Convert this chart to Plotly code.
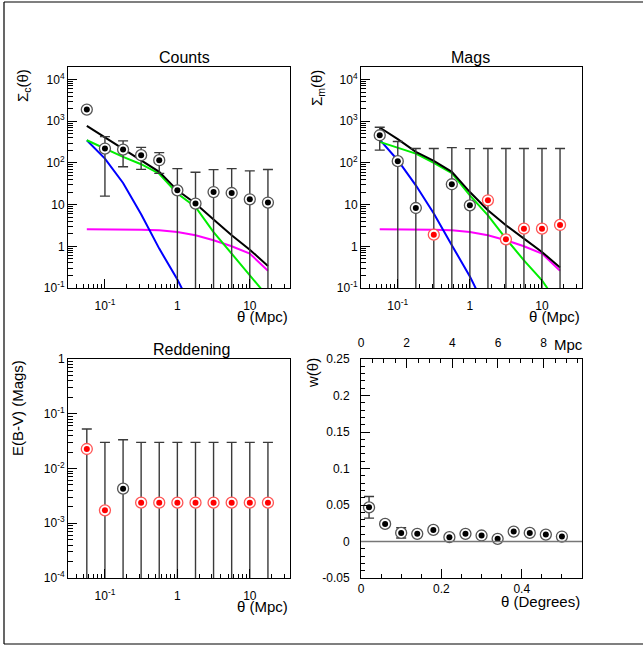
import plotly.graph_objects as go

# ---------------- data ----------------
r_mpc = [0.0562, 0.1, 0.178, 0.316, 0.562, 1.0, 1.78, 3.16, 5.62, 10.0, 17.8]

counts_y = [1900, 221, 209, 153, 116, 22, 10.6, 20, 19, 13.4, 11.2]
counts_err = [0, 205, 128, 83, 60, 51, 49, 49, 54, 51, 58]
counts_col = ["k"] * 11

mags_y = [461, 110, 8.3, 1.9, 30.8, 9.6, 12.7, 1.47, 2.65, 2.65, 3.25]
mags_err = [258, 215, 213, 219, 202, 211, 208, 220, 218, 218, 218]
mags_col = ["k", "k", "k", "r", "k", "k", "r", "r", "r", "r", "r"]

redd_y = [0.0227, 0.00172, 0.00428, 0.00238, 0.00238, 0.00238, 0.00238, 0.00238, 0.00238, 0.00238, 0.00238]
redd_err = [0.030, 0.0283, 0.0293, 0.0276, 0.0276, 0.0276, 0.0276, 0.0276, 0.0276, 0.0276, 0.0276]
redd_col = ["r", "r", "k", "r", "r", "r", "r", "r", "r", "r", "r"]

# model curves (Counts)
black_c = [774, 408, 216, 116, 61, 22, 10.6, 4.37, 1.84, 0.83, 0.337]
green_c = [350, 221, 139, 93, 55, 18.4, 8.8, 2.2, 0.667, 0.205, 0.061]
blue_c = [350, 127, 33, 5.9, 0.88, 0.16, 0.022]
magenta_c = [2.56, 2.56, 2.55, 2.5, 2.42, 2.2, 1.84, 1.4, 1.0, 0.667, 0.26]

# model curves (Mags)
black_m = [706, 373, 184, 112, 61, 20, 7.3, 3.2, 1.53, 0.73, 0.31]
green_m = [319, 229, 167, 100, 57, 16.7, 5.5, 1.53, 0.46, 0.153, 0.035]
blue_m = [363, 116, 29, 6.1, 1.06, 0.19, 0.025]
magenta_m = [2.56, 2.56, 2.55, 2.5, 2.42, 2.2, 1.84, 1.4, 1.0, 0.667, 0.26]

# w(theta)
w_deg = [0.02, 0.06, 0.10, 0.14, 0.18, 0.22, 0.26, 0.30, 0.34, 0.38, 0.42, 0.46, 0.50]
w_y = [0.0468, 0.0241, 0.0118, 0.0105, 0.0159, 0.0059, 0.0105, 0.0082, 0.0036, 0.0136, 0.0118, 0.0095, 0.0068]
w_err = [0.0148, 0.0041, 0.007, 0.003, 0.002, 0.002, 0.002, 0.002, 0.002, 0.002, 0.002, 0.002, 0.002]

ZW = "\u200b"
log_ticks_x = [0.1, 1, 10]
log_text_x = ["10<sup>-1</sup>", "1<sup>" + ZW + "</sup>", "10<sup>" + ZW + "</sup>"]
log_ticks_y1 = [0.1, 1, 10, 100, 1000, 10000]
log_text_y1 = ["10<sup>-1</sup>", "1", "10", "10<sup>2</sup>", "10<sup>3</sup>", "10<sup>4</sup>"]
log_ticks_y3 = [1e-4, 1e-3, 1e-2, 1e-1, 1]
log_text_y3 = ["10<sup>-4</sup>", "10<sup>-3</sup>", "10<sup>-2</sup>", "10<sup>-1</sup>", "1"]
w_ticks_y = [-0.05, 0, 0.05, 0.1, 0.15, 0.2, 0.25]
w_text_y = ["-0.05", "0", "0.05", "0.1", "0.15", "0.2", "0.25"]
deg_ticks = [0, 0.2, 0.4]
deg_text = ["0", "0.2", "0.4"]
mpc_ticks = [0, 2, 4, 6, 8]

# ---------------- helpers ----------------
W, H = 643, 646
FONT = "Liberation Sans, Arial, Helvetica, sans-serif"


def px(x):
    return x / W


def py(y):
    return 1 - y / H


def minor_log(lo_exp, hi_exp, lo, hi):
    vals = []
    for e in range(lo_exp, hi_exp + 1):
        for m in range(2, 10):
            v = m * 10 ** e
            if lo < v < hi:
                vals.append(v)
    return vals


RING = {"k": "#555555", "r": "#ff5555"}
FILL = {"k": "#000000", "r": "#ff0000"}

fig = go.Figure()


def add_points(x, y, err, cols, xa, ya):
    fig.add_trace(go.Scatter(
        x=x, y=y, mode="markers", xaxis=xa, yaxis=ya, showlegend=False,
        marker=dict(symbol="circle", size=11, color="white",
                    line=dict(color=[RING[c] for c in cols], width=1.3)),
        error_y=dict(type="data", array=err, symmetric=True, color="#3a3a3a",
                     thickness=1.4, width=5),
    ))
    fig.add_trace(go.Scatter(
        x=x, y=y, mode="markers", xaxis=xa, yaxis=ya, showlegend=False,
        marker=dict(symbol="circle", size=6, color=[FILL[c] for c in cols]),
    ))


def add_curve(x, y, color, xa, ya):
    fig.add_trace(go.Scatter(x=x, y=y, mode="lines", xaxis=xa, yaxis=ya,
                             showlegend=False, line=dict(color=color, width=2)))


# Counts
add_curve(r_mpc, magenta_c, "#ff00ff", "x", "y")
add_curve(r_mpc[:len(blue_c)], blue_c, "#0000ff", "x", "y")
add_curve(r_mpc, green_c, "#00ee00", "x", "y")
add_curve(r_mpc, black_c, "#000000", "x", "y")
add_points(r_mpc, counts_y, counts_err, counts_col, "x", "y")

# Mags
add_curve(r_mpc, magenta_m, "#ff00ff", "x2", "y2")
add_curve(r_mpc[:len(blue_m)], blue_m, "#0000ff", "x2", "y2")
add_curve(r_mpc, green_m, "#00ee00", "x2", "y2")
add_curve(r_mpc, black_m, "#000000", "x2", "y2")
add_points(r_mpc, mags_y, mags_err, mags_col, "x2", "y2")

# Reddening
add_points(r_mpc, redd_y, redd_err, redd_col, "x3", "y3")

# w(theta)
add_points(w_deg, w_y, w_err, ["k"] * len(w_deg), "x4", "y4")
fig.add_trace(go.Scatter(x=[None], y=[None], xaxis="x5", yaxis="y4",
                         showlegend=False, hoverinfo="skip"))

axis_common = dict(showline=True, linecolor="black", linewidth=1, mirror=True,
                   ticks="inside", ticklen=9, tickwidth=1, tickcolor="black",
                   showgrid=False, zeroline=False, automargin=False,
                   tickfont=dict(family=FONT, size=12, color="black"))

XL = [px(68), px(290)]
XR = [px(361), px(582)]
YT = [py(288), py(67)]
YB = [py(578), py(359)]
XRANGE = [-1.51, 1.555]

minor_x = dict(tickvals=minor_log(-2, 1, 0.031, 35.8), ticks="inside", ticklen=4,
               tickcolor="black", showgrid=False)
minor_y1 = dict(tickvals=minor_log(-1, 4, 0.1, 19900), ticks="inside", ticklen=5,
                tickcolor="black", showgrid=False)
minor_y3 = dict(tickvals=minor_log(-4, -1, 1e-4, 1), ticks="inside", ticklen=5,
                tickcolor="black", showgrid=False)

fig.update_layout(
    width=W, height=H,
    margin=dict(l=0, r=0, t=0, b=0, pad=0, autoexpand=False),
    paper_bgcolor="white", plot_bgcolor="white",
    showlegend=False,
    xaxis=dict(axis_common, type="log", range=XRANGE, domain=XL, anchor="y",
               tickvals=log_ticks_x, ticktext=log_text_x, minor=minor_x,
               ticklabelstandoff=7),
    yaxis=dict(axis_common, type="log", range=[-1, 4.3], domain=YT, anchor="x",
               tickvals=log_ticks_y1, ticktext=log_text_y1, minor=minor_y1),
    xaxis2=dict(axis_common, type="log", range=XRANGE, domain=XR, anchor="y2",
                tickvals=log_ticks_x, ticktext=log_text_x, minor=minor_x,
                ticklabelstandoff=7),
    yaxis2=dict(axis_common, type="log", range=[-1, 4.3], domain=YT, anchor="x2",
                tickvals=log_ticks_y1, ticktext=log_text_y1, minor=minor_y1),
    xaxis3=dict(axis_common, type="log", range=XRANGE, domain=XL, anchor="y3",
                tickvals=log_ticks_x, ticktext=log_text_x, minor=minor_x,
                ticklabelstandoff=7),
    yaxis3=dict(axis_common, type="log", range=[-4, 0], domain=YB, anchor="x3",
                tickvals=log_ticks_y3, ticktext=log_text_y3, minor=minor_y3),
    xaxis4=dict(axis_common, range=[0, 0.55], domain=XR, anchor="y4",
                tickvals=deg_ticks, ticktext=deg_text,
                minor=dict(dtick=0.05, tick0=0, ticks="inside", ticklen=4,
                           tickcolor="black", showgrid=False)),
    yaxis4=dict(axis_common, range=[-0.05, 0.25], domain=YB, anchor="x4",
                tickvals=w_ticks_y, ticktext=w_text_y, ticklabelstandoff=8,
                minor=dict(dtick=0.01, tick0=0, ticks="inside", ticklen=4,
                           tickcolor="black", showgrid=False)),
    xaxis5=dict(axis_common, range=[0, 9.68], overlaying="x4", side="top",
                anchor="y4", mirror=False, tickvals=mpc_ticks,
                ticklabelstandoff=6,
                minor=dict(dtick=0.5, tick0=0, ticks="inside", ticklen=4,
                           tickcolor="black", showgrid=False)),
)

# zero line in w(theta) panel
fig.add_shape(type="line", xref="x4 domain", yref="y4", x0=0, x1=1, y0=0, y1=0,
              line=dict(color="#777777", width=1.5))

# outer frame (left, top, bottom edges; kept inside the page)
for (a0, b0, a1, b1) in [(4, 2, 4, 644), (4, 2, 643, 2), (4, 644, 643, 644)]:
    fig.add_shape(type="line", xref="paper", yref="paper",
                  x0=px(a0), y0=py(b0), x1=px(a1), y1=py(b1),
                  line=dict(color="black", width=1.2))


def ann(text, x, y, size=15, xanchor="center", yanchor="middle", angle=0):
    fig.add_annotation(text=text, x=px(x), y=py(y), xref="paper", yref="paper",
                       showarrow=False, xanchor=xanchor, yanchor=yanchor,
                       textangle=angle,
                       font=dict(family=FONT, size=size, color="black"))


# panel titles
ann("Counts", 184, 57, size=16)
ann("Mags", 470, 57, size=16)
ann("Reddening", 191, 349, size=16)

# y titles
ann("Σ<sub>c</sub>(θ)", 24, 86, angle=-90)
ann("Σ<sub>m</sub>(θ)", 317, 88, angle=-90)
ann("E(B-V) (Mags)", 17, 408, angle=-90)
ann("w(θ)", 312, 373, angle=-90)

# x titles
ann("θ (Mpc)", 290, 316, xanchor="right")
ann("θ (Mpc)", 582, 316, xanchor="right")
ann("θ (Mpc)", 290, 606, xanchor="right")
ann("θ (Degrees)", 582, 601, xanchor="right")
ann("Mpc", 552, 345, xanchor="left")

fig.write_html(
    "out.html",
    config={"displayModeBar": False},
    post_script="document.body.style.margin='0';"
                "document.documentElement.style.overflow='hidden';",
)
